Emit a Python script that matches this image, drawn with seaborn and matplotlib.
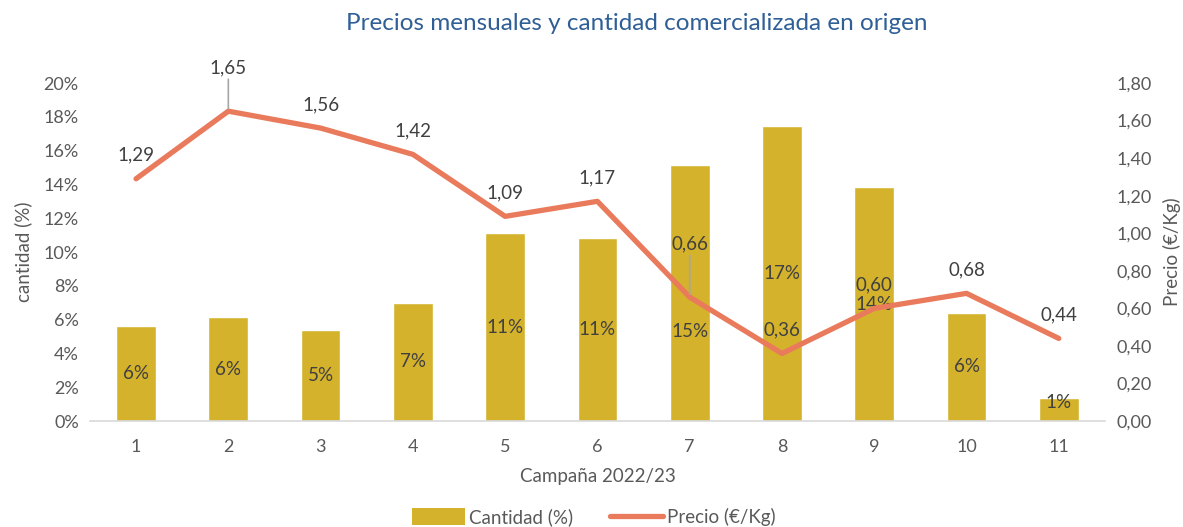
import numpy as np
import pandas as pd
import matplotlib
matplotlib.use("Agg")
import matplotlib.pyplot as plt
import seaborn as sns
from matplotlib.patches import Patch
from matplotlib.lines import Line2D

# ---- data ----
campana = ["1", "2", "3", "4", "5", "6", "7", "8", "9", "10", "11"]
cantidad = [5.6, 6.15, 5.4, 7.0, 11.1, 10.85, 15.15, 17.45, 13.85, 6.4, 1.35]
cantidad_labels = ["6%", "6%", "5%", "7%", "11%", "11%", "15%", "17%", "14%", "6%", "1%"]
precio = [1.29, 1.65, 1.56, 1.42, 1.09, 1.17, 0.66, 0.36, 0.60, 0.68, 0.44]
left_ticks = [0, 2, 4, 6, 8, 10, 12, 14, 16, 18, 20]
right_ticks = [0.0, 0.2, 0.4, 0.6, 0.8, 1.0, 1.2, 1.4, 1.6, 1.8]

# ---- style / label placement ----
sns.set_theme(style="white")
plt.rcParams["font.family"] = ["Lato", "DejaVu Sans"]
TXT = "#595959"
LAB = "#404040"
BAR = "#D4B22B"
LINE = "#E97A5C"
bar_label_frac = [0.5, 0.5, 0.5, 0.5, 0.5, 0.5, 0.35, 0.5, 0.5, 0.5, 0.8]
price_offsets = [17, 31, 17, 17, 17, 17, 38, 17, 17, 17, 17]
price_leaders = [False, True, False, False, False, False, True, False, False, False, False]

df = pd.DataFrame({"campana": campana, "cantidad": cantidad, "precio": precio})

fig = plt.figure(figsize=(11.83, 5.27), dpi=100)
ax = fig.add_axes([0.076, 0.201, 0.858, 0.6415])
sns.barplot(data=df, x="campana", y="cantidad", color=BAR, width=0.43,
            saturation=1, ax=ax, zorder=2)
ax.set_ylim(0, 20)
ax.set_xlim(-0.5, len(campana) - 0.5)
ax.set_yticks(left_ticks)
ax.set_yticklabels([f"{t}%" for t in left_ticks])
ax.set_ylabel("cantidad (%)", color=TXT, fontsize=13.5, labelpad=8)
ax.set_xlabel("Campaña 2022/23", color=TXT, fontsize=13.5, labelpad=9)
ax.tick_params(axis="y", colors=TXT, labelsize=13, length=0, pad=8)
ax.tick_params(axis="x", colors=TXT, labelsize=13, length=0, pad=13)
for s in ["top", "right", "left"]:
    ax.spines[s].set_visible(False)
ax.spines["bottom"].set_color("#D9D9D9")
ax.spines["bottom"].set_linewidth(1.2)

for i, (v, lab, fr) in enumerate(zip(cantidad, cantidad_labels, bar_label_frac)):
    ax.text(i, v * fr, lab, ha="center", va="center", fontsize=13.5, color=LAB, zorder=5)

ax2 = ax.twinx()
x_pos = np.arange(len(precio))
sns.lineplot(x=x_pos, y=precio, ax=ax2, color=LINE, linewidth=3.8, zorder=3)
ax2.set_ylim(0, 1.8)
ax2.set_xlim(-0.5, len(campana) - 0.5)
ax2.set_yticks(right_ticks)
ax2.set_yticklabels([f"{t:.2f}".replace(".", ",") for t in right_ticks])
ax2.set_ylabel("Precio (€/Kg)", color=TXT, fontsize=13.5, labelpad=8)
ax2.tick_params(axis="y", colors=TXT, labelsize=13, length=0, pad=8)
for s in ["top", "right", "left", "bottom"]:
    ax2.spines[s].set_visible(False)

for i, (p, off, ld) in enumerate(zip(precio, price_offsets, price_leaders)):
    ax2.annotate(f"{p:.2f}".replace(".", ","), (i, p), xytext=(0, off),
                 textcoords="offset points", ha="center", va="center",
                 fontsize=13.5, color=LAB, zorder=6)
    if ld:
        ax2.annotate("", (i, p), xytext=(0, off - 8), textcoords="offset points",
                     arrowprops=dict(arrowstyle="-", color="#A6A6A6", lw=1.2, shrinkA=0, shrinkB=2))

fig.suptitle("Precios mensuales y cantidad comercializada en origen", x=0.538, y=0.975,
             color="#2F5F96", fontsize=17.5)

handles = [Patch(facecolor=BAR, edgecolor="none"), Line2D([0], [0], color=LINE, lw=3.8)]
fig.legend(handles, ["Cantidad (%)", "Precio (€/Kg)"], loc="lower center",
           bbox_to_anchor=(0.502, -0.03), ncol=2, frameon=False, fontsize=13.5,
           labelcolor=TXT, handlelength=2.8, handleheight=1.0, handletextpad=0.2,
           columnspacing=2.0)

fig.savefig("out.png", dpi=100)
